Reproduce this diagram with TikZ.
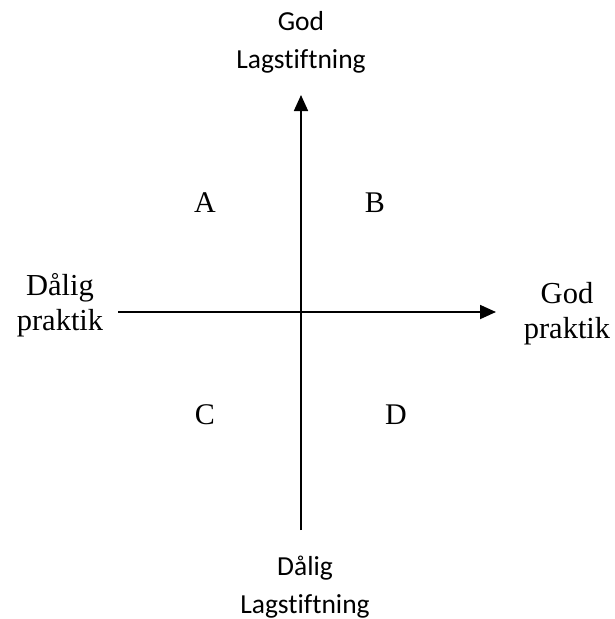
\documentclass[tikz,border=0pt]{standalone}
\usepackage{fontspec}
\setmainfont{Liberation Serif}
\newfontfamily\calibri[Ligatures=NoCommon]{Carlito}
\usetikzlibrary{arrows.meta}
\begin{document}
\begin{tikzpicture}[x=1pt,y=-1pt,
  axis/.style={line width=1.8pt,-{Triangle[width=14pt,length=16pt]}},
  serlab/.style={align=center,inner sep=0pt,font=\fontsize{30.5}{35}\selectfont},
  sanslab/.style={align=center,inner sep=0pt,font=\calibri\fontsize{27.5}{38}\selectfont},
  quad/.style={inner sep=0pt,font=\fontsize{30}{35}\selectfont}]
\useasboundingbox (0,0) rectangle (614,619);
\coordinate (vbot) at (301,530);
\coordinate (vtop) at (301,95);
\coordinate (hleft) at (118,312);
\coordinate (hright) at (496,312);
\draw[axis] (vbot) -- (vtop);
\draw[axis] (hleft) -- (hright);
\node[sanslab] (top) at (301,42) {God\\Lagstiftning};
\node[sanslab] (bottom) at (305,587) {Dålig\\Lagstiftning};
\node[serlab] (left) at (60,305) {Dålig\\praktik};
\node[serlab] (right) at (567,314) {God\\praktik};
\node[quad] (A) at (205,203) {A};
\node[quad] (B) at (375,203) {B};
\node[quad] (C) at (205,415) {C};
\node[quad] (D) at (396,415) {D};
\end{tikzpicture}
\end{document}
